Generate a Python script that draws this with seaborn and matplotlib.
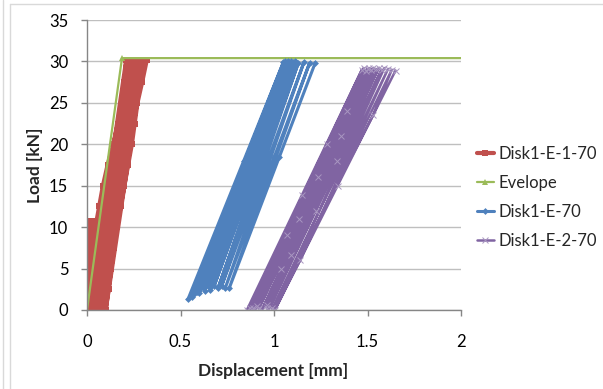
import matplotlib
matplotlib.use("Agg")
import matplotlib.pyplot as plt
from matplotlib.lines import Line2D
import seaborn as sns
import pandas as pd

# ---------------- data ----------------
# Disk1-E-1-70 : small cycles (to ~10.8 kN) then full cycles (to ~30.2 kN)
red_small_loads = [0.0, 2.5, 5.0, 7.5, 10.8]
red_small_disp = [
    [-0.010, -0.012, -0.015, -0.005, 0.005],
    [0.005, 0.008, 0.012, 0.020, 0.030],
    [0.025, 0.030, 0.035, 0.045, 0.060],
]
red_loads = [0.0, 2.5, 5.0, 7.5, 10.0, 12.5, 15.0, 17.5, 20.0, 22.5, 25.0, 27.5, 30.2]
red_disp = [
    [0.000, 0.010, 0.020, 0.030, 0.045, 0.065, 0.085, 0.110, 0.140, 0.165, 0.190, 0.200, 0.210],
    [0.015, 0.025, 0.037, 0.050, 0.064, 0.084, 0.104, 0.128, 0.157, 0.180, 0.203, 0.216, 0.228],
    [0.030, 0.043, 0.055, 0.068, 0.083, 0.103, 0.123, 0.146, 0.173, 0.195, 0.217, 0.232, 0.247],
    [0.050, 0.062, 0.075, 0.088, 0.103, 0.123, 0.143, 0.165, 0.190, 0.210, 0.230, 0.248, 0.265],
    [0.065, 0.078, 0.092, 0.105, 0.120, 0.140, 0.160, 0.183, 0.206, 0.225, 0.243, 0.264, 0.284],
    [0.083, 0.097, 0.111, 0.125, 0.140, 0.160, 0.180, 0.202, 0.223, 0.240, 0.257, 0.280, 0.302],
    [0.100, 0.115, 0.130, 0.145, 0.160, 0.180, 0.200, 0.220, 0.240, 0.255, 0.270, 0.295, 0.320],
]

# Evelope
env_x = [0.0, 0.187, 2.0]
env_y = [0.0, 30.4, 30.4]

# Disk1-E-70 : cycles as (bottom, middle, top) points
blue_x = [
    [0.54, 0.838, 1.05], [0.56, 0.743, 1.06], [0.57, 0.965, 1.07], [0.59, 0.691, 1.075],
    [0.60, 0.910, 1.08], [0.62, 0.833, 1.09], [0.63, 1.031, 1.095], [0.65, 0.770, 1.10],
    [0.66, 0.980, 1.11], [0.68, 0.893, 1.12], [0.70, 0.951, 1.13], [0.72, 0.885, 1.16],
    [0.74, 1.002, 1.19], [0.76, 1.029, 1.22],
]
blue_y = [
    [1.3, 18.0, 29.9], [1.6, 12.0, 30.0], [1.9, 24.0, 29.9], [2.2, 8.0, 30.0],
    [2.0, 20.0, 29.9], [2.6, 15.0, 30.0], [2.3, 26.0, 29.8], [2.8, 10.0, 29.9],
    [2.4, 22.0, 30.0], [2.9, 16.0, 29.9], [2.6, 18.5, 29.8], [2.9, 13.0, 29.9],
    [2.7, 18.5, 29.8], [2.6, 18.5, 29.8],
]

# Disk1-E-2-70
purple_x = [
    [0.855, 1.150, 1.47], [0.87, 1.286, 1.48], [0.88, 1.070, 1.49], [0.89, 1.392, 1.50],
    [0.90, 1.234, 1.51], [0.91, 1.135, 1.52], [0.92, 1.358, 1.53], [0.935, 1.040, 1.545],
    [0.96, 1.090, 1.56], [0.96, 1.339, 1.575], [0.97, 1.225, 1.59], [1.00, 1.140, 1.61],
    [0.99, 1.530, 1.63], [1.005, 1.340, 1.65],
]
purple_y = [
    [0.0, 13.9, 29.0], [0.2, 20.0, 29.2], [0.0, 9.0, 28.9], [0.3, 24.0, 29.1],
    [0.0, 16.0, 29.2], [0.5, 11.0, 29.0], [0.2, 21.0, 29.2], [0.0, 5.0, 29.1],
    [0.6, 6.6, 29.2], [0.3, 18.0, 29.0], [0.0, 12.0, 29.2], [0.0, 6.0, 29.1],
    [0.2, 23.5, 29.0], [0.0, 15.0, 28.9],
]

series_names = ["Disk1-E-1-70", "Evelope", "Disk1-E-70", "Disk1-E-2-70"]
colors = ["#C0504D", "#9BBB59", "#4F81BD", "#8064A2"]
x_ticks = [0, 0.5, 1, 1.5, 2]
y_ticks = [0, 5, 10, 15, 20, 25, 30, 35]

# ---------------- build tables ----------------
rx, ry = [], []
for cyc in red_small_disp:
    rx += cyc
    ry += red_small_loads
for cyc in red_disp:
    rx += cyc
    ry += red_loads
red_df = pd.DataFrame({"x": rx, "y": ry})

env_df = pd.DataFrame({"x": env_x, "y": env_y})

bx = [v for c in blue_x for v in c]
by = [v for c in blue_y for v in c]
blue_df = pd.DataFrame({"x": bx, "y": by})

px = [v for c in purple_x for v in c]
py = [v for c in purple_y for v in c]
purple_df = pd.DataFrame({"x": px, "y": py})

# ---------------- plot ----------------
sns.set_theme(style="white")
plt.rcParams["font.family"] = ["Lato", "DejaVu Sans"]

W, H = 603, 389
fig = plt.figure(figsize=(W / 100, H / 100), dpi=100)
ax = fig.add_axes([87 / W, 1 - 310 / H, (461 - 87) / W, (310 - 20) / H])

common = dict(sort=False, estimator=None, ax=ax)
sns.lineplot(data=red_df, x="x", y="y", color=colors[0], lw=3.0, marker="s",
             markersize=4.5, markeredgewidth=0, label=series_names[0], **common)
sns.lineplot(data=env_df, x="x", y="y", color=colors[1], lw=1.6, marker="^",
             markersize=5, markeredgewidth=0, markevery=[0, 1],
             label=series_names[1], **common)
sns.lineplot(data=blue_df, x="x", y="y", color=colors[2], lw=2.2, marker="D",
             markersize=3.5, markeredgewidth=0, label=series_names[2], **common)
sns.lineplot(data=purple_df, x="x", y="y", color=colors[3], lw=1.8, marker="x",
             markersize=4, markeredgewidth=0.7, markeredgecolor="#A896C0",
             label=series_names[3], **common)

ax.set_xlim(0, 2)
ax.set_ylim(0, 35)
ax.set_xticks(x_ticks)
ax.set_xticklabels(["0", "0.5", "1", "1.5", "2"])
ax.set_yticks(y_ticks)
ax.set_yticklabels([str(v) for v in y_ticks])

ax.yaxis.grid(True, color="#BFBFBF", lw=1.0)
ax.xaxis.grid(False)
ax.set_axisbelow(True)
for s in ["top", "right"]:
    ax.spines[s].set_visible(False)
for s in ["left", "bottom"]:
    ax.spines[s].set_color("#868686")
    ax.spines[s].set_linewidth(1.0)
ax.tick_params(axis="both", which="major", direction="out", length=4.5, width=1.0,
               color="#868686", labelsize=12, labelcolor="#000000")
ax.tick_params(axis="y", pad=9)
ax.tick_params(axis="x", pad=13, bottom=True)
ax.tick_params(axis="y", left=True)

ax.set_xlabel("Displacement [mm]", fontsize=12.5, fontweight="bold")
ax.set_ylabel("Load [kN]", fontsize=12.5, fontweight="bold")
ax.xaxis.set_label_coords((273 - 87) / 374, (310 - 363) / 290)
ax.yaxis.set_label_coords((43 - 87) / 374, 0.5)

handles, labels = ax.get_legend_handles_labels()
leg = ax.get_legend()
if leg is not None:
    leg.remove()
fig.legend(handles, labels, loc="upper left", bbox_to_anchor=(477 / W, 1 - 146 / H),
           bbox_transform=fig.transFigure, frameon=False, fontsize=12,
           handlelength=1.0, handletextpad=0.3, labelspacing=0.78,
           borderpad=0, borderaxespad=0)

# outer chart frame lines
fig.add_artist(Line2D([10 / W, 1], [1 - 4 / H, 1 - 4 / H], transform=fig.transFigure,
                      color="#D9D9D9", lw=1))
fig.add_artist(Line2D([10 / W, 10 / W], [0, 1 - 4 / H], transform=fig.transFigure,
                      color="#D9D9D9", lw=1))
fig.add_artist(Line2D([3 / W, 3 / W], [0, 1], transform=fig.transFigure,
                      color="#D9D9D9", lw=1))

fig.savefig("out.png", dpi=100)
